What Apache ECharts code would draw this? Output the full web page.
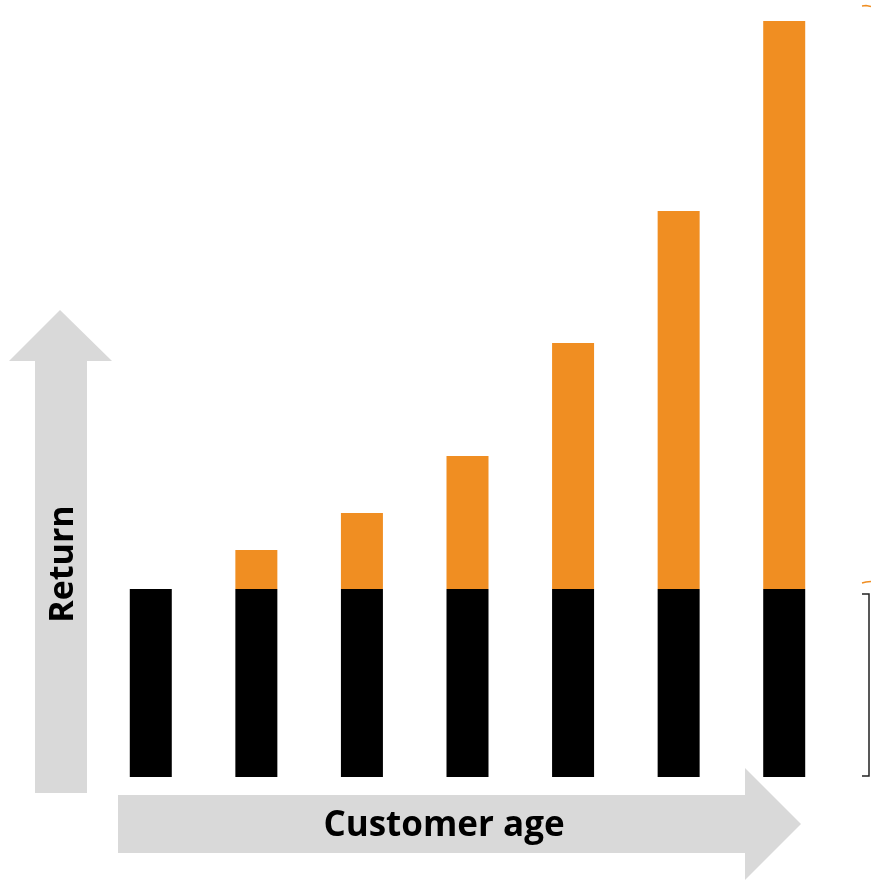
<!DOCTYPE html>
<html>
<head>
<meta charset="utf-8">
<script src="https://cdn.jsdelivr.net/npm/echarts@6/dist/echarts.min.js"></script>
<style>
html,body{margin:0;padding:0;background:#fff;}
#c{width:871px;height:881px;}
</style>
</head>
<body>
<div id="c"></div>
<script>
var categories = ['1', '2', '3', '4', '5', '6', '7'];
var baseValues = [188, 188, 188, 188, 188, 188, 188];
var extraValues = [0, 39, 76, 133, 246, 378, 568];
var yMax = 756;

var chart = echarts.init(document.getElementById('c'), null, {renderer: 'canvas'});
var grey = '#d9d9d9';
var font = '"Open Sans", sans-serif';
chart.setOption({
  animation: false,
  backgroundColor: '#ffffff',
  grid: {left: 98, right: 34, top: 21, bottom: 104},
  xAxis: {
    type: 'category', data: categories,
    axisLine: {show: false}, axisTick: {show: false}, axisLabel: {show: false}, splitLine: {show: false}
  },
  yAxis: {
    type: 'value', min: 0, max: yMax,
    axisLine: {show: false}, axisTick: {show: false}, axisLabel: {show: false}, splitLine: {show: false}
  },
  series: [
    {type: 'bar', stack: 's', data: baseValues, barWidth: 42, itemStyle: {color: '#000000'}, z: 5},
    {type: 'bar', stack: 's', data: extraValues, barWidth: 42, itemStyle: {color: '#F08E22'}, z: 5}
  ],
  graphic: [
    {type: 'polygon', z: 0, shape: {points: [[35,793],[35,361],[9,361],[60,310],[112,361],[87,361],[87,793]]}, style: {fill: grey}},
    {type: 'polygon', z: 0, shape: {points: [[118,795],[745,795],[745,768],[801,824],[745,880],[745,853],[118,853]]}, style: {fill: grey}},
    {type: 'text', z: 10, x: 63, y: 564, rotation: Math.PI/2, style: {text: 'Return', font: 'bold 34px ' + font, fill: '#000', align: 'center', verticalAlign: 'middle'}},
    {type: 'text', z: 10, x: 444, y: 826, style: {text: 'Customer age', font: 'bold 35px ' + font, fill: '#000', align: 'center', verticalAlign: 'middle'}},
    {type: 'polyline', z: 10, shape: {points: [[862,594],[869,594],[869,776],[862,776]]}, style: {stroke: '#222', lineWidth: 1.5, fill: null}},
    {type: 'line', z: 10, shape: {x1: 863, y1: 686, x2: 868, y2: 686}, style: {stroke: '#fff', lineWidth: 1}},
    {type: 'polyline', z: 10, shape: {points: [[862,6],[866,5.5],[871,6.5]]}, style: {stroke: '#F08E22', lineWidth: 1.5, fill: null}},
    {type: 'polyline', z: 10, shape: {points: [[862,583],[866,582],[871,581.5]]}, style: {stroke: '#F08E22', lineWidth: 1.5, fill: null}}
  ]
});
</script>
</body>
</html>
